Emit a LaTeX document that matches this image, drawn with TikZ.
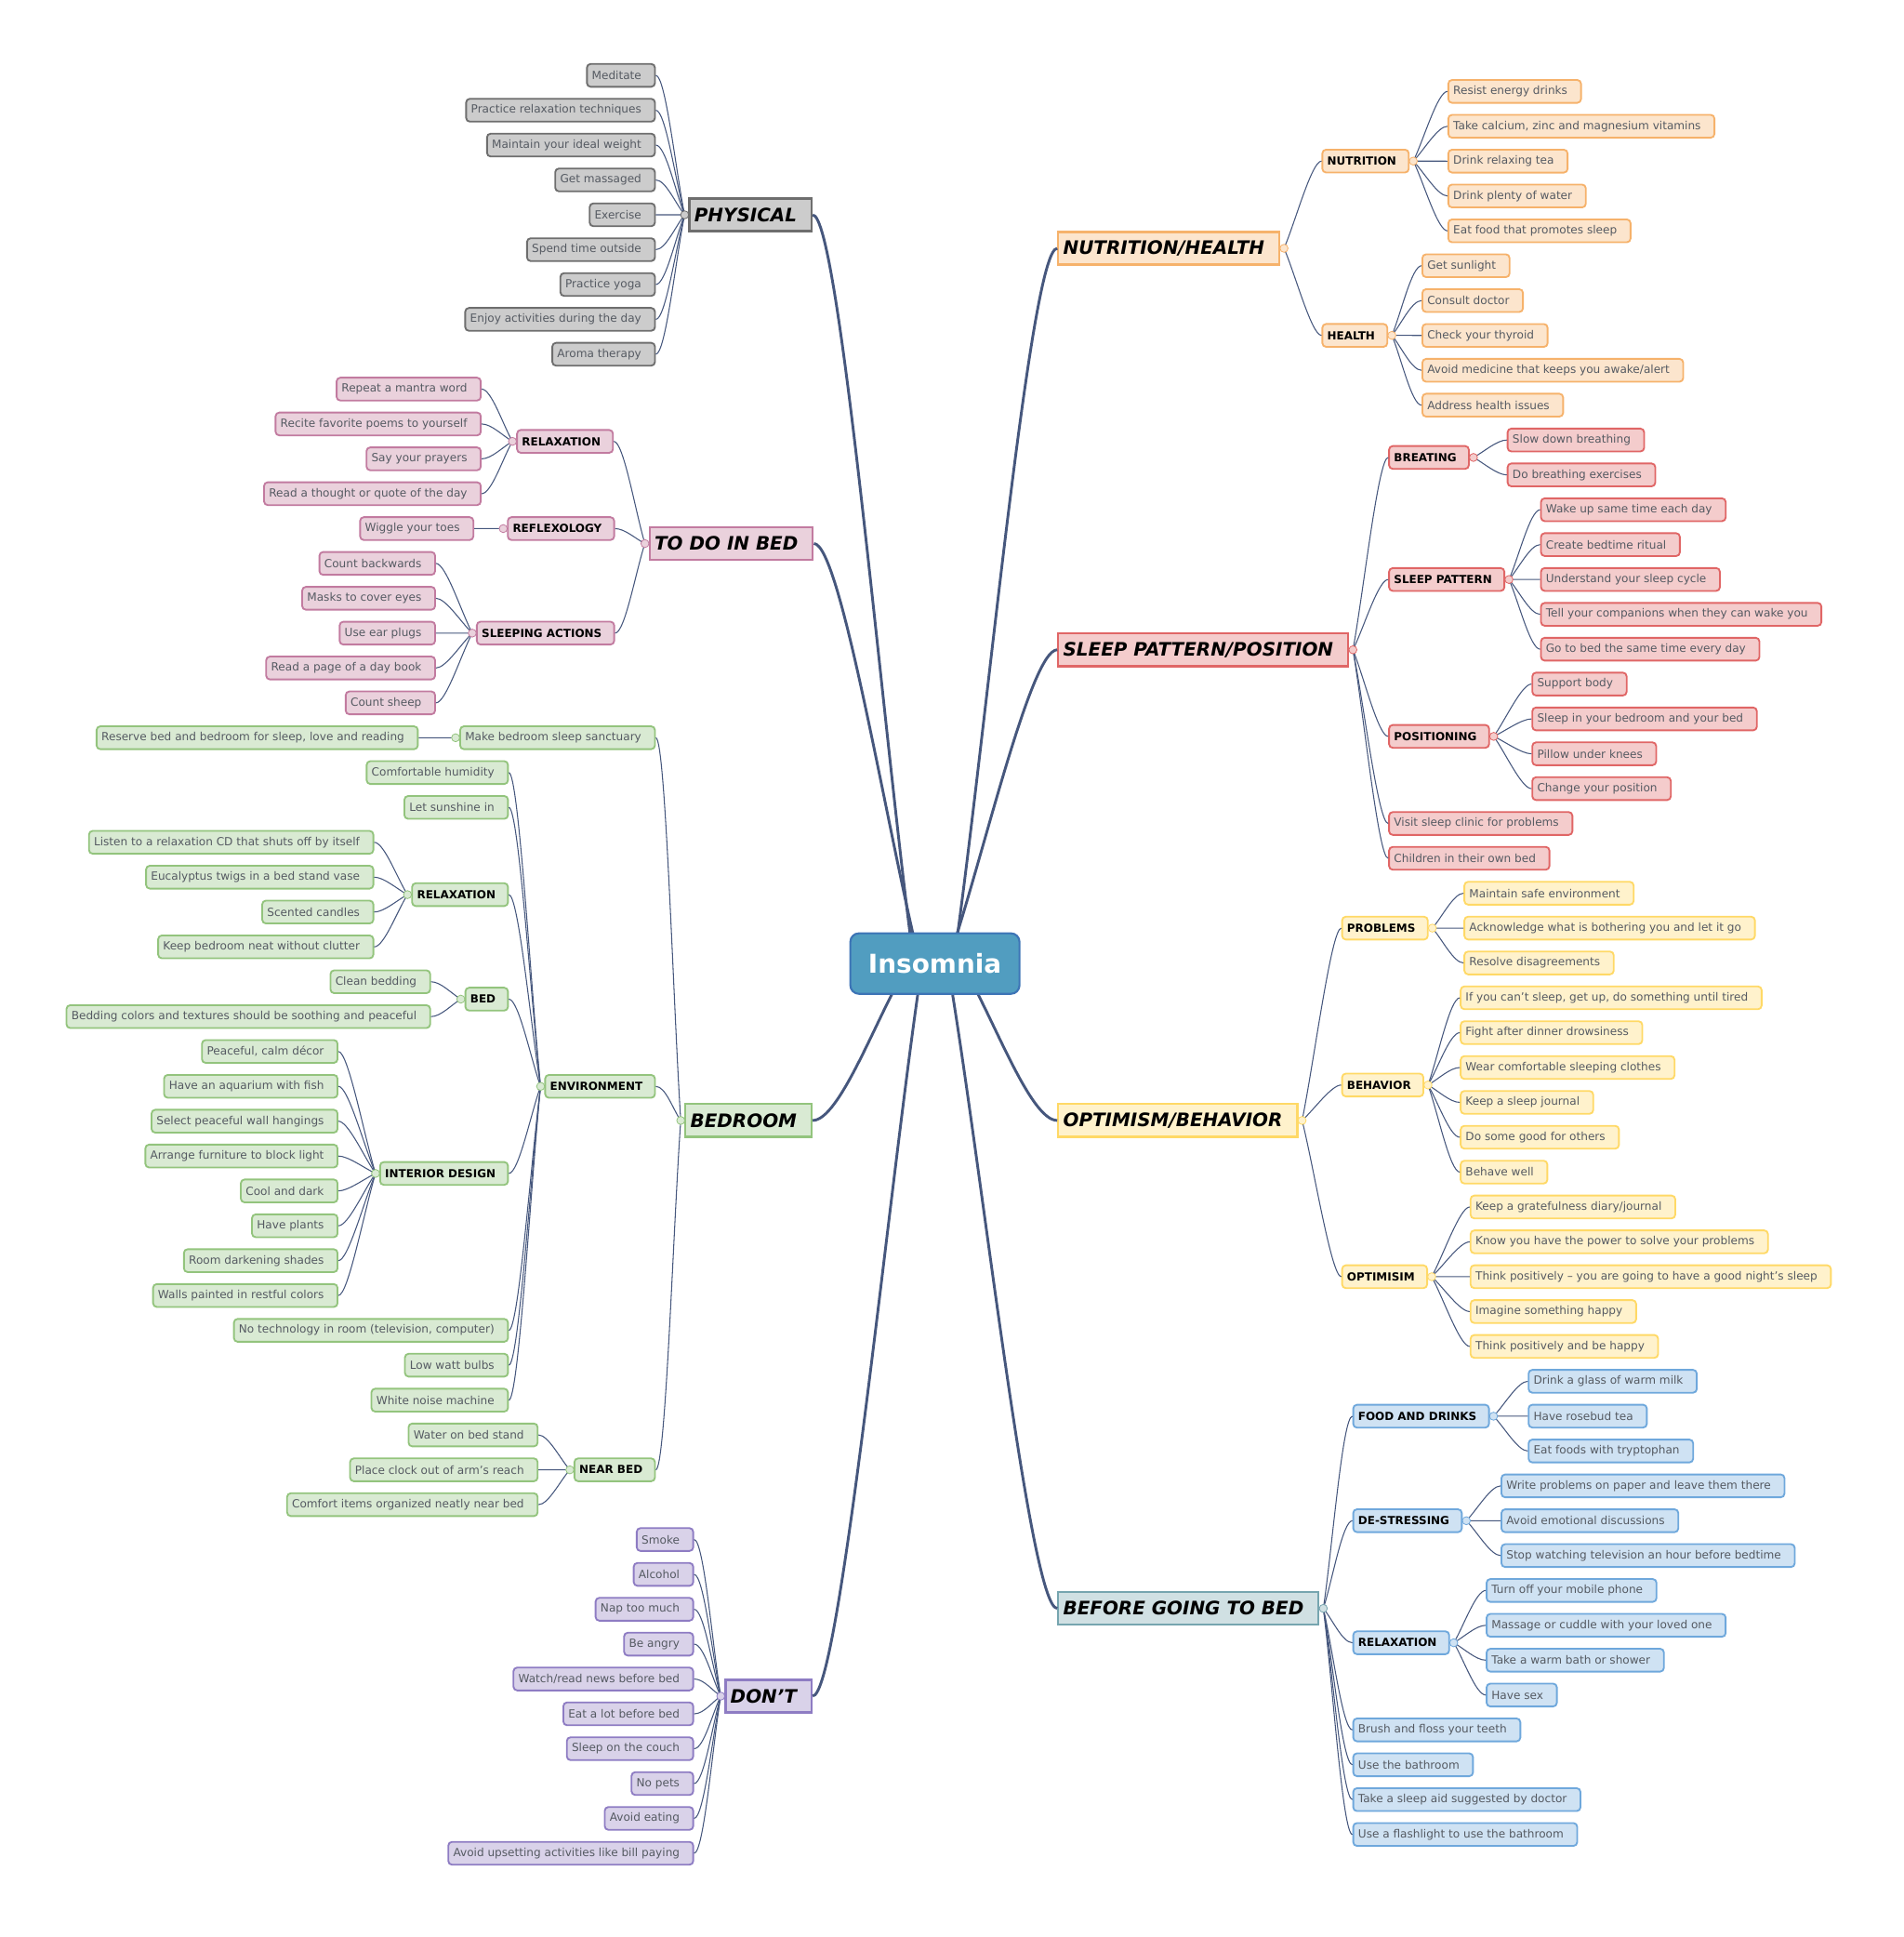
\documentclass[tikz,border=0pt]{standalone}
\usepackage{fontspec}
\setmainfont{DejaVu Sans}
\usetikzlibrary{calc}
\definecolor{greyF}{HTML}{CCCCCC}
\definecolor{greyD}{HTML}{6E6E6E}
\definecolor{pinkF}{HTML}{EAD1DC}
\definecolor{pinkD}{HTML}{C27BA0}
\definecolor{greenF}{HTML}{D9EAD3}
\definecolor{greenD}{HTML}{93C47D}
\definecolor{lavF}{HTML}{D9D2E9}
\definecolor{lavD}{HTML}{8E7CC3}
\definecolor{orangeF}{HTML}{FCE5CD}
\definecolor{orangeD}{HTML}{F6B26B}
\definecolor{redF}{HTML}{F4CCCC}
\definecolor{redD}{HTML}{E06666}
\definecolor{yellowF}{HTML}{FFF2CC}
\definecolor{yellowD}{HTML}{FFD966}
\definecolor{tealF}{HTML}{D0E0E3}
\definecolor{tealD}{HTML}{76A5AF}
\definecolor{blueF}{HTML}{CFE2F3}
\definecolor{blueD}{HTML}{6FA8DC}
\definecolor{rootF}{HTML}{519DC0}
\definecolor{rootD}{HTML}{3D74B6}
\definecolor{edge}{HTML}{46577D}
\definecolor{leaftxt}{HTML}{555A62}
\tikzset{
  lnk/.style = {draw=edge, line width=0.8},
  trunkline/.style = {draw=edge, line width=2.2},
  boxbase/.style = {rounded corners=3, line width=1.4, minimum height=18.5, inner ysep=0, inner xsep=0,
    execute at begin node={\hspace*{4pt}}},
  leafbox/.style = {boxbase, font=\fontsize{9.1}{10}\selectfont, text=leaftxt,
    execute at end node={\hspace*{11pt}}},
  subbox/.style = {boxbase, text=black, font=\fontsize{9}{10}\selectfont\bfseries,
    execute at end node={\hspace*{10pt}}},
  mainbox/.style = {line width=1.7, minimum height=26.5, inner ysep=0, inner xsep=0,
    font=\fontsize{15}{17}\selectfont\bfseries\itshape,
    execute at begin node={\hspace*{4pt}}, execute at end node={\hspace*{12pt}}},
  rootbox/.style = {fill=rootF, draw=rootD, line width=1.6, rounded corners=7, minimum width=137,
    minimum height=49, text=white, font=\fontsize{21}{24}\selectfont\bfseries},
  dotmark/.style = {circle, inner sep=0, minimum size=6.5, line width=0.6},
  cgrey/.style = {fill=greyF, draw=greyD},
  cpink/.style = {fill=pinkF, draw=pinkD},
  cgreen/.style = {fill=greenF, draw=greenD},
  clav/.style = {fill=lavF, draw=lavD},
  corange/.style = {fill=orangeF, draw=orangeD},
  cred/.style = {fill=redF, draw=redD},
  cyellow/.style = {fill=yellowF, draw=yellowD},
  cteal/.style = {fill=tealF, draw=tealD},
  cblue/.style = {fill=blueF, draw=blueD}
}
% #1 style, #2 from, #3 to, #4 horizontal pull at the end
\newcommand\mmlink[4]{\draw[#1] (#2) .. controls ($(#2)!0.3!(#3)$) and ($(#3)+(#4,0)$) .. (#3);}

\begin{document}
\begin{tikzpicture}[x=1pt, y=-1pt]
\useasboundingbox (0,0) rectangle (1541,1568);

% main topics
\node[mainbox, cgrey, anchor=east] (phy) at (658,173.9) {PHYSICAL};
\node[mainbox, cpink, anchor=east] (bedt) at (659,440) {TO DO IN BED};
\node[mainbox, cgreen, anchor=east] (room) at (658,907) {BEDROOM};
\node[mainbox, clav, anchor=east] (dont) at (658,1373) {DON'T};
\node[mainbox, corange, anchor=west] (nutr) at (856,201) {NUTRITION/HEALTH};
\node[mainbox, cred, anchor=west] (slp) at (856,526) {SLEEP PATTERN/POSITION};
\node[mainbox, cyellow, anchor=west] (opt) at (856,907) {OPTIMISM/BEHAVIOR};
\node[mainbox, cteal, anchor=west] (pre) at (856,1302) {BEFORE GOING TO BED};

\mmlink{trunkline}{740,780}{phy.east}{22}
\mmlink{trunkline}{745,780}{bedt.east}{22}
\mmlink{trunkline}{733,785}{room.east}{22}
\mmlink{trunkline}{746,785}{dont.east}{22}
\mmlink{trunkline}{772,780}{nutr.west}{-22}
\mmlink{trunkline}{767,780}{slp.west}{-22}
\mmlink{trunkline}{781,785}{opt.west}{-22}
\mmlink{trunkline}{768,785}{pre.west}{-22}

\node[rootbox] (root) at (757,780) {Insomnia};

% physical
\coordinate (phyd) at ($(phy.west)+(-3,0)$);
\foreach \t [count=\i] in {Meditate, Practice relaxation techniques, Maintain your ideal weight, Get massaged, Exercise, Spend time outside, Practice yoga, Enjoy activities during the day, Aroma therapy}{
  \pgfmathsetmacro\y{61+28.22*(\i-1)}
  \node[leafbox, cgrey, anchor=east] (phy\i) at (531,\y) {\t};
  \mmlink{lnk}{phyd}{phy\i.east}{8}
}
\node[dotmark, cgrey] at (phyd) {};

% to do in bed
\coordinate (bedtd) at ($(bedt.west)+(-3,0)$);
\node[subbox, cpink, anchor=east] (relx) at (497,357.3) {RELAXATION};
\node[subbox, cpink, anchor=east] (refl) at (498,427.9) {REFLEXOLOGY};
\node[subbox, cpink, anchor=east] (slac) at (498,512.5) {SLEEPING ACTIONS};
\foreach \n in {relx,refl,slac}{\mmlink{lnk}{bedtd}{\n.east}{8}}
\node[dotmark, cpink] at (bedtd) {};

\coordinate (relxd) at ($(relx.west)+(-3,0)$);
\foreach \t [count=\i] in {Repeat a mantra word, Recite favorite poems to yourself, Say your prayers, Read a thought or quote of the day}{
  \pgfmathsetmacro\y{61+28.22*(\i+8)}
  \node[leafbox, cpink, anchor=east] (relx\i) at (390,\y) {\t};
  \mmlink{lnk}{relxd}{relx\i.east}{8}
}
\node[dotmark, cpink] at (relxd) {};

\coordinate (refld) at ($(refl.west)+(-3,0)$);
\node[leafbox, cpink, anchor=east] (refl1) at (384,427.9) {Wiggle your toes};
\mmlink{lnk}{refld}{refl1.east}{8}
\node[dotmark, cpink] at (refld) {};

\coordinate (slacd) at ($(slac.west)+(-3,0)$);
\foreach \t [count=\i] in {Count backwards, Masks to cover eyes, Use ear plugs, Read a page of a day book, Count sheep}{
  \pgfmathsetmacro\y{61+28.22*(\i+13)}
  \node[leafbox, cpink, anchor=east] (slac\i) at (353,\y) {\t};
  \mmlink{lnk}{slacd}{slac\i.east}{8}
}
\node[dotmark, cpink] at (slacd) {};

% bedroom
\coordinate (roomd) at ($(room.west)+(-3,0)$);
\node[leafbox, cgreen, anchor=east] (sanc) at (531,597.2) {Make bedroom sleep sanctuary};
\node[subbox, cgreen, anchor=east] (env) at (531,879.4) {ENVIRONMENT};
\node[subbox, cgreen, anchor=east] (near) at (531,1189.8) {NEAR BED};
\foreach \n in {sanc,env,near}{\mmlink{lnk}{roomd}{\n.east}{8}}
\node[dotmark, cgreen] at (roomd) {};

\coordinate (sancd) at ($(sanc.west)+(-3,0)$);
\node[leafbox, cgreen, anchor=east] (sanc1) at (339,597.2) {Reserve bed and bedroom for sleep, love and reading};
\mmlink{lnk}{sancd}{sanc1.east}{8}
\node[dotmark, cgreen] at (sancd) {};

\coordinate (envd) at ($(env.west)+(-3,0)$);
\node[leafbox, cgreen, anchor=east] (env1) at (412,625.4) {Comfortable humidity};
\node[leafbox, cgreen, anchor=east] (env2) at (412,653.6) {Let sunshine in};
\node[subbox, cgreen, anchor=east] (erel) at (412,724.2) {RELAXATION};
\node[subbox, cgreen, anchor=east] (ebed) at (412,808.8) {BED};
\node[subbox, cgreen, anchor=east] (eint) at (412,949.9) {INTERIOR DESIGN};
\node[leafbox, cgreen, anchor=east] (env3) at (412,1076.9) {No technology in room (television, computer)};
\node[leafbox, cgreen, anchor=east] (env4) at (412,1105.1) {Low watt bulbs};
\node[leafbox, cgreen, anchor=east] (env5) at (412,1133.4) {White noise machine};
\foreach \n in {env1,env2,erel,ebed,eint,env3,env4,env5}{\mmlink{lnk}{envd}{\n.east}{8}}
\node[dotmark, cgreen] at (envd) {};

\coordinate (ereld) at ($(erel.west)+(-3,0)$);
\foreach \t [count=\i] in {Listen to a relaxation CD that shuts off by itself, Eucalyptus twigs in a bed stand vase, Scented candles, Keep bedroom neat without clutter}{
  \pgfmathsetmacro\y{61+28.22*(\i+21)}
  \node[leafbox, cgreen, anchor=east] (erel\i) at (303,\y) {\t};
  \mmlink{lnk}{ereld}{erel\i.east}{8}
}
\node[dotmark, cgreen] at (ereld) {};

\coordinate (ebedd) at ($(ebed.west)+(-3,0)$);
\foreach \t [count=\i] in {Clean bedding, Bedding colors and textures should be soothing and peaceful}{
  \pgfmathsetmacro\y{61+28.22*(\i+25)}
  \node[leafbox, cgreen, anchor=east] (ebed\i) at (349,\y) {\t};
  \mmlink{lnk}{ebedd}{ebed\i.east}{8}
}
\node[dotmark, cgreen] at (ebedd) {};

\coordinate (eintd) at ($(eint.west)+(-3,0)$);
\foreach \t [count=\i] in {{Peaceful, calm décor}, Have an aquarium with fish, Select peaceful wall hangings, Arrange furniture to block light, Cool and dark, Have plants, Room darkening shades, Walls painted in restful colors}{
  \pgfmathsetmacro\y{61+28.22*(\i+27)}
  \node[leafbox, cgreen, anchor=east] (eint\i) at (274,\y) {\t};
  \mmlink{lnk}{eintd}{eint\i.east}{8}
}
\node[dotmark, cgreen] at (eintd) {};

\coordinate (neard) at ($(near.west)+(-3,0)$);
\foreach \t [count=\i] in {Water on bed stand, Place clock out of arm's reach, Comfort items organized neatly near bed}{
  \pgfmathsetmacro\y{61+28.22*(\i+38)}
  \node[leafbox, cgreen, anchor=east] (near\i) at (436,\y) {\t};
  \mmlink{lnk}{neard}{near\i.east}{8}
}
\node[dotmark, cgreen] at (neard) {};

% don't
\coordinate (dontd) at ($(dont.west)+(-3,0)$);
\foreach \t [count=\i] in {Smoke, Alcohol, Nap too much, Be angry, Watch/read news before bed, Eat a lot before bed, Sleep on the couch, No pets, Avoid eating, Avoid upsetting activities like bill paying}{
  \pgfmathsetmacro\y{61+28.22*(\i+41)}
  \node[leafbox, clav, anchor=east] (dont\i) at (562,\y) {\t};
  \mmlink{lnk}{dontd}{dont\i.east}{8}
}
\node[dotmark, clav] at (dontd) {};

% nutrition/health
\coordinate (nutrd) at ($(nutr.east)+(3,0)$);
\node[subbox, corange, anchor=west] (ntr) at (1070,130.4) {NUTRITION};
\node[subbox, corange, anchor=west] (hlt) at (1070,271.5) {HEALTH};
\foreach \n in {ntr,hlt}{\mmlink{lnk}{nutrd}{\n.west}{-8}}
\node[dotmark, corange] at (nutrd) {};

\coordinate (ntrd) at ($(ntr.east)+(3,0)$);
\foreach \t [count=\i] in {Resist energy drinks, {Take calcium, zinc and magnesium vitamins}, Drink relaxing tea, Drink plenty of water, Eat food that promotes sleep}{
  \pgfmathsetmacro\y{74+28.22*(\i-1)}
  \node[leafbox, corange, anchor=west] (ntr\i) at (1172,\y) {\t};
  \mmlink{lnk}{ntrd}{ntr\i.west}{-8}
}
\node[dotmark, corange] at (ntrd) {};

\coordinate (hltd) at ($(hlt.east)+(3,0)$);
\foreach \t [count=\i] in {Get sunlight, Consult doctor, Check your thyroid, Avoid medicine that keeps you awake/alert, Address health issues}{
  \pgfmathsetmacro\y{74+28.22*(\i+4)}
  \node[leafbox, corange, anchor=west] (hlt\i) at (1151,\y) {\t};
  \mmlink{lnk}{hltd}{hlt\i.west}{-8}
}
\node[dotmark, corange] at (hltd) {};

% sleep pattern/position
\coordinate (slpd) at ($(slp.east)+(3,0)$);
\node[subbox, cred, anchor=west] (brt) at (1124,370.3) {BREATING};
\node[subbox, cred, anchor=west] (spat) at (1124,469.1) {SLEEP PATTERN};
\node[subbox, cred, anchor=west] (pos) at (1124,596.1) {POSITIONING};
\node[leafbox, cred, anchor=west] (slp1) at (1124,666.6) {Visit sleep clinic for problems};
\node[leafbox, cred, anchor=west] (slp2) at (1124,694.8) {Children in their own bed};
\foreach \n in {brt,spat,pos,slp1,slp2}{\mmlink{lnk}{slpd}{\n.west}{-8}}
\node[dotmark, cred] at (slpd) {};

\coordinate (brtd) at ($(brt.east)+(3,0)$);
\foreach \t [count=\i] in {Slow down breathing, Do breathing exercises}{
  \pgfmathsetmacro\y{74+28.22*(\i+9)}
  \node[leafbox, cred, anchor=west] (brt\i) at (1220,\y) {\t};
  \mmlink{lnk}{brtd}{brt\i.west}{-8}
}
\node[dotmark, cred] at (brtd) {};

\coordinate (spatd) at ($(spat.east)+(3,0)$);
\foreach \t [count=\i] in {Wake up same time each day, Create bedtime ritual, Understand your sleep cycle, Tell your companions when they can wake you, Go to bed the same time every day}{
  \pgfmathsetmacro\y{74+28.22*(\i+11)}
  \node[leafbox, cred, anchor=west] (spat\i) at (1247,\y) {\t};
  \mmlink{lnk}{spatd}{spat\i.west}{-8}
}
\node[dotmark, cred] at (spatd) {};

\coordinate (posd) at ($(pos.east)+(3,0)$);
\foreach \t [count=\i] in {Support body, Sleep in your bedroom and your bed, Pillow under knees, Change your position}{
  \pgfmathsetmacro\y{74+28.22*(\i+16)}
  \node[leafbox, cred, anchor=west] (pos\i) at (1240,\y) {\t};
  \mmlink{lnk}{posd}{pos\i.west}{-8}
}
\node[dotmark, cred] at (posd) {};

% optimism/behavior
\coordinate (optd) at ($(opt.east)+(3,0)$);
\node[subbox, cyellow, anchor=west] (prob) at (1086,751.3) {PROBLEMS};
\node[subbox, cyellow, anchor=west] (beh) at (1086,878.3) {BEHAVIOR};
\node[subbox, cyellow, anchor=west] (optm) at (1086,1033.5) {OPTIMISIM};
\foreach \n in {prob,beh,optm}{\mmlink{lnk}{optd}{\n.west}{-8}}
\node[dotmark, cyellow] at (optd) {};

\coordinate (probd) at ($(prob.east)+(3,0)$);
\foreach \t [count=\i] in {Maintain safe environment, Acknowledge what is bothering you and let it go, Resolve disagreements}{
  \pgfmathsetmacro\y{74+28.22*(\i+22)}
  \node[leafbox, cyellow, anchor=west] (prob\i) at (1185,\y) {\t};
  \mmlink{lnk}{probd}{prob\i.west}{-8}
}
\node[dotmark, cyellow] at (probd) {};

\coordinate (behd) at ($(beh.east)+(3,0)$);
\foreach \t [count=\i] in {{If you can't sleep, get up, do something until tired}, Fight after dinner drowsiness, Wear comfortable sleeping clothes, Keep a sleep journal, Do some good for others, Behave well}{
  \pgfmathsetmacro\y{74+28.22*(\i+25)}
  \node[leafbox, cyellow, anchor=west] (beh\i) at (1182,\y) {\t};
  \mmlink{lnk}{behd}{beh\i.west}{-8}
}
\node[dotmark, cyellow] at (behd) {};

\coordinate (optmd) at ($(optm.east)+(3,0)$);
\foreach \t [count=\i] in {Keep a gratefulness diary/journal, Know you have the power to solve your problems, Think positively – you are going to have a good night's sleep, Imagine something happy, Think positively and be happy}{
  \pgfmathsetmacro\y{74+28.22*(\i+31)}
  \node[leafbox, cyellow, anchor=west] (optm\i) at (1190,\y) {\t};
  \mmlink{lnk}{optmd}{optm\i.west}{-8}
}
\node[dotmark, cyellow] at (optmd) {};

% before going to bed
\coordinate (pred) at ($(pre.east)+(3,0)$);
\node[subbox, cblue, anchor=west] (food) at (1095,1146.4) {FOOD AND DRINKS};
\node[subbox, cblue, anchor=west] (dest) at (1095,1231) {DE-STRESSING};
\node[subbox, cblue, anchor=west] (brel) at (1095,1329.8) {RELAXATION};
\foreach \t [count=\i] in {Brush and floss your teeth, Use the bathroom, Take a sleep aid suggested by doctor, Use a flashlight to use the bathroom}{
  \pgfmathsetmacro\y{74+28.22*(\i+46)}
  \node[leafbox, cblue, anchor=west] (pre\i) at (1095,\y) {\t};
}
\foreach \n in {food,dest,brel,pre1,pre2,pre3,pre4}{\mmlink{lnk}{pred}{\n.west}{-8}}
\node[dotmark, cteal] at (pred) {};

\coordinate (foodd) at ($(food.east)+(3,0)$);
\foreach \t [count=\i] in {Drink a glass of warm milk, Have rosebud tea, Eat foods with tryptophan}{
  \pgfmathsetmacro\y{74+28.22*(\i+36)}
  \node[leafbox, cblue, anchor=west] (food\i) at (1237,\y) {\t};
  \mmlink{lnk}{foodd}{food\i.west}{-8}
}
\node[dotmark, cblue] at (foodd) {};

\coordinate (destd) at ($(dest.east)+(3,0)$);
\foreach \t [count=\i] in {Write problems on paper and leave them there, Avoid emotional discussions, Stop watching television an hour before bedtime}{
  \pgfmathsetmacro\y{74+28.22*(\i+39)}
  \node[leafbox, cblue, anchor=west] (dest\i) at (1215,\y) {\t};
  \mmlink{lnk}{destd}{dest\i.west}{-8}
}
\node[dotmark, cblue] at (destd) {};

\coordinate (breld) at ($(brel.east)+(3,0)$);
\foreach \t [count=\i] in {Turn off your mobile phone, Massage or cuddle with your loved one, Take a warm bath or shower, Have sex}{
  \pgfmathsetmacro\y{74+28.22*(\i+42)}
  \node[leafbox, cblue, anchor=west] (brel\i) at (1203,\y) {\t};
  \mmlink{lnk}{breld}{brel\i.west}{-8}
}
\node[dotmark, cblue] at (breld) {};
\end{tikzpicture}
\end{document}
